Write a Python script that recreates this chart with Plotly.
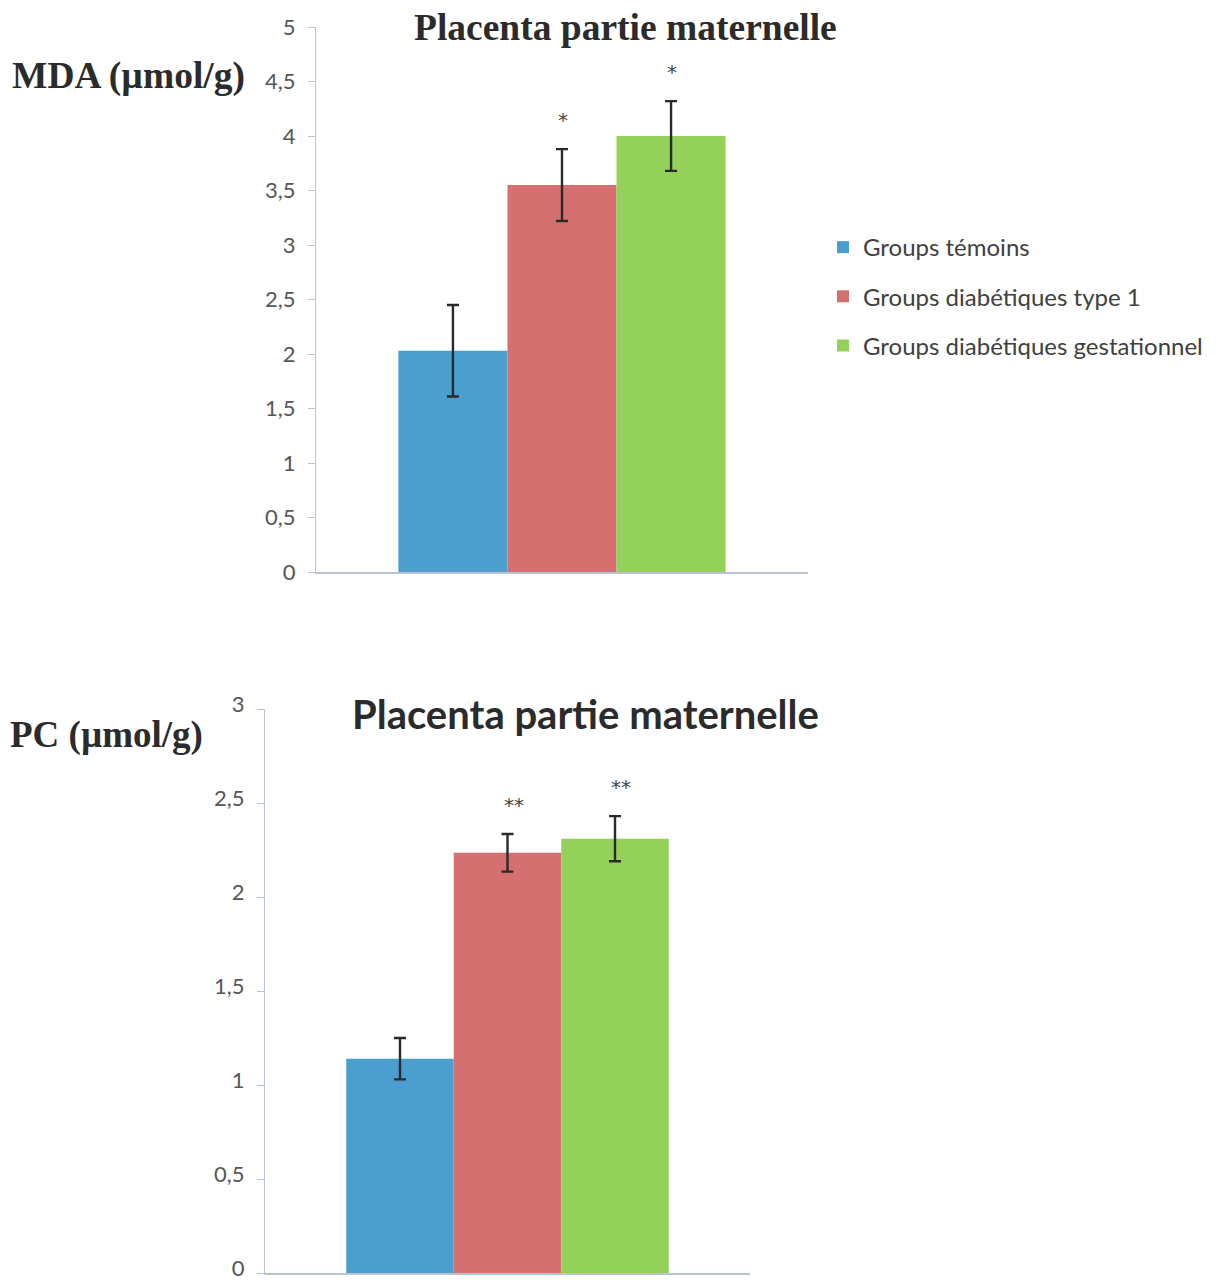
import plotly.graph_objects as go

# Groups compared in both panels
groups = ["Groups témoins", "Groups diabétiques type 1", "Groups diabétiques gestationnel"]
colors = ["#4a9fcf", "#d4706f", "#94d15b"]

# MDA in the maternal side of the placenta (µmol/g): means and error bars
mda_mean = [2.03, 3.55, 4.00]
mda_err = [0.42, 0.33, 0.32]
mda_marks = ["", "*", "*"]

# Carbonyl proteins (PC) in the maternal side of the placenta (µmol/g)
pc_mean = [1.14, 2.235, 2.31]
pc_err = [0.11, 0.10, 0.12]
pc_marks = ["", "**", "**"]

mda_ticks = [0, 0.5, 1, 1.5, 2, 2.5, 3, 3.5, 4, 4.5, 5]
mda_ticktext = ["0", "0,5", "1", "1,5", "2", "2,5", "3", "3,5", "4", "4,5", "5"]
pc_ticks = [0, 0.5, 1, 1.5, 2, 2.5, 3]
pc_ticktext = ["0", "0,5", "1", "1,5", "2", "2,5", "3"]

category = ["Placenta partie maternelle"]
panel_title = "Placenta partie maternelle"

W, H = 1228, 1283
SANS = "Lato, 'Open Sans', sans-serif"
SERIF = "'Liberation Serif', 'Times New Roman', serif"
AXIS_COLOR = "#b9c3d3"
TICK_FONT = dict(family=SANS, size=22, color="#565656")
STAR_FONT = dict(family="'DejaVu Sans', sans-serif", size=20, color="#444444")

fig = go.Figure()

for i, g in enumerate(groups):
    fig.add_trace(go.Bar(
        x=category, y=[mda_mean[i]], name=g, legendgroup=g,
        marker=dict(color=colors[i], line=dict(width=0)),
        error_y=dict(type="data", array=[mda_err[i]], color="#2a2a2a", thickness=2.4, width=6),
        xaxis="x", yaxis="y", offsetgroup=str(i),
    ))
for i, g in enumerate(groups):
    fig.add_trace(go.Bar(
        x=category, y=[pc_mean[i]], name=g, legendgroup=g, showlegend=False,
        marker=dict(color=colors[i], line=dict(width=0)),
        error_y=dict(type="data", array=[pc_err[i]], color="#2a2a2a", thickness=2.4, width=6),
        xaxis="x2", yaxis="y2", offsetgroup=str(i),
    ))

bargap = 0.335
slot = (1 - bargap) / 3  # width of one bar in category units
annotations = []
for i in range(3):
    if mda_marks[i]:
        annotations.append(dict(
            x=(i - 1) * slot, y=mda_mean[i] + mda_err[i], xref="x", yref="y",
            text=mda_marks[i], showarrow=False, yshift=29, xshift=1, font=STAR_FONT))
    if pc_marks[i]:
        annotations.append(dict(
            x=(i - 1) * slot, y=pc_mean[i] + pc_err[i], xref="x2", yref="y2",
            text=pc_marks[i], showarrow=False, yshift=29, xshift=6, font=STAR_FONT))

# Panel titles and y-axis labels
annotations += [
    dict(x=625 / W, y=1 - 28 / H, xref="paper", yref="paper", text=f"<b>{panel_title}</b>",
         showarrow=False, xanchor="center", yanchor="middle",
         font=dict(family=SERIF, size=37.5, color="#2b2b2b")),
    dict(x=10 / W, y=1 - 76 / H, xref="paper", yref="paper", text="<b>MDA (µmol/g)</b>",
         showarrow=False, xanchor="left", yanchor="middle",
         font=dict(family=SERIF, size=37.5, color="#2b2b2b")),
    dict(x=585 / W, y=1 - 714 / H, xref="paper", yref="paper", text=f"<b>{panel_title}</b>",
         showarrow=False, xanchor="center", yanchor="middle",
         font=dict(family=SANS, size=40, color="#2b2b2b")),
    dict(x=8 / W, y=1 - 735 / H, xref="paper", yref="paper", text="<b>PC (µmol/g)</b>",
         showarrow=False, xanchor="left", yanchor="middle",
         font=dict(family=SERIF, size=37, color="#2b2b2b")),
]

xaxis_common = dict(showticklabels=False, ticks="", showgrid=False, zeroline=False,
                    showline=True, linecolor=AXIS_COLOR, linewidth=1.5,
                    range=[-0.5, 0.5], fixedrange=True, automargin=False)
yaxis_common = dict(showgrid=False, zeroline=False, showline=True, linecolor=AXIS_COLOR,
                    linewidth=1.2, ticks="outside", ticklen=7, tickcolor=AXIS_COLOR,
                    tickfont=TICK_FONT, ticklabelstandoff=8, automargin=False,
                    ticklabeloverflow="allow")

fig.update_layout(
    width=W, height=H,
    margin=dict(l=0, r=0, t=0, b=0, autoexpand=False),
    paper_bgcolor="white", plot_bgcolor="white",
    barmode="group", bargap=bargap, bargroupgap=0,
    xaxis=dict(domain=[316 / W, 808 / W], anchor="y", **xaxis_common),
    yaxis=dict(domain=[1 - 572 / H, 1 - 27 / H], anchor="x", range=[0, 5],
               tickvals=mda_ticks, ticktext=mda_ticktext, **yaxis_common),
    xaxis2=dict(domain=[265 / W, 750 / W], anchor="y2", **xaxis_common),
    yaxis2=dict(domain=[1 - 1273 / H, 1 - 709 / H], anchor="x2", range=[0, 3],
                tickvals=pc_ticks, ticktext=pc_ticktext, ticklabelshift=-5, **yaxis_common),
    legend=dict(x=823 / W, y=1 - 225 / H, xanchor="left", yanchor="top",
                font=dict(family=SANS, size=24, color="#404040"),
                tracegroupgap=15, bgcolor="rgba(0,0,0,0)"),
    annotations=annotations,
    showlegend=True,
)

fig.write_html("out.html")
